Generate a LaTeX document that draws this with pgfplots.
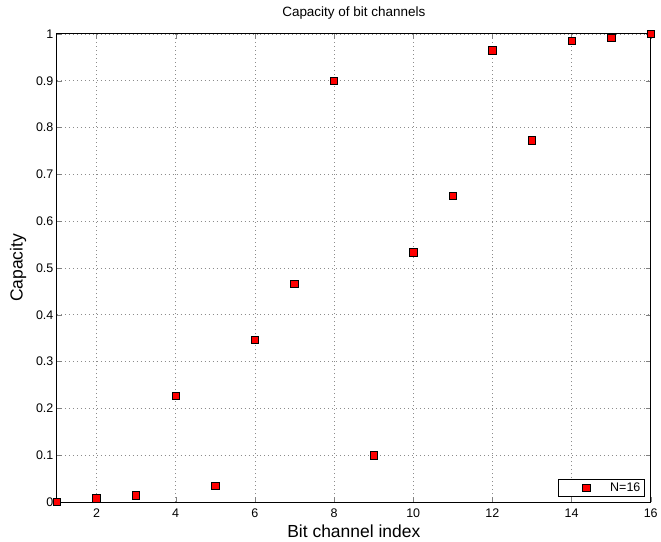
\documentclass[border=0pt]{standalone}
\usepackage{pgfplots}
\pgfplotsset{compat=1.18}
\usepackage{fontspec}
\setmainfont{Liberation Sans}
\begin{document}
\begin{tikzpicture}
\begin{axis}[
  scale only axis,
  width=595pt, height=469pt,
  xmin=1, xmax=16, ymin=0, ymax=1,
  xtick={2,4,...,16},
  ytick={0,0.1,...,1},
  yticklabels={0,0.1,0.2,0.3,0.4,0.5,0.6,0.7,0.8,0.9,1},
  /pgf/number format/assume math mode=true,
  tick label style={font=\fontsize{12.5}{14}\selectfont},
  xticklabel style={yshift=-3pt},
  label style={font=\fontsize{17.5}{20}\selectfont},
  title style={font=\fontsize{13.5}{16}\selectfont, at={(axis description cs:0.5,1)}, anchor=base, yshift=11pt},
  title={Capacity of bit channels},
  xlabel={Bit channel index},
  ylabel={Capacity},
  xlabel style={at={(axis description cs:0.5,0)}, anchor=center, yshift=-29.5pt},
  ylabel style={at={(axis description cs:-0.0655,0.5)}, anchor=center},
  grid=major,
  major grid style={dash pattern=on 1pt off 3pt, gray!90, line width=0.6pt},
  tick align=inside,
  tick pos=both,
  major tick length=5pt,
  axis line style={black, line width=0.9pt},
  legend style={at={(axis description cs:1,0)}, anchor=south east, xshift=-6pt, yshift=5.5pt,
    font=\fontsize{12.5}{14}\selectfont, draw=black, line width=0.7pt, legend cell align=left,
    inner xsep=2pt, inner ysep=1.5pt},
  legend image code/.code={\path[draw=none,fill=none] (0pt,0pt) (48pt,0pt); \draw[#1] plot coordinates {(26pt,0pt)};},
]
\addplot[only marks, mark=square*, mark size=3.7pt, mark options={fill=red, draw=black, line width=0.6pt}]
coordinates {
(1,0.0000153) (2,0.0078) (3,0.0146) (4,0.2275) (5,0.0352) (6,0.3462) (7,0.4666) (8,0.8999)
(9,0.1001) (10,0.5334) (11,0.6538) (12,0.9648) (13,0.7725) (14,0.9854) (15,0.9922) (16,1.0)
};
\addlegendentry{N=16}
\end{axis}
\path (current axis.south west) ++(-57pt,-40pt) coordinate (bbA);
\path (current axis.north east) ++(9pt,34pt) coordinate (bbB);
\path (bbA) (bbB);
\end{tikzpicture}
\end{document}
